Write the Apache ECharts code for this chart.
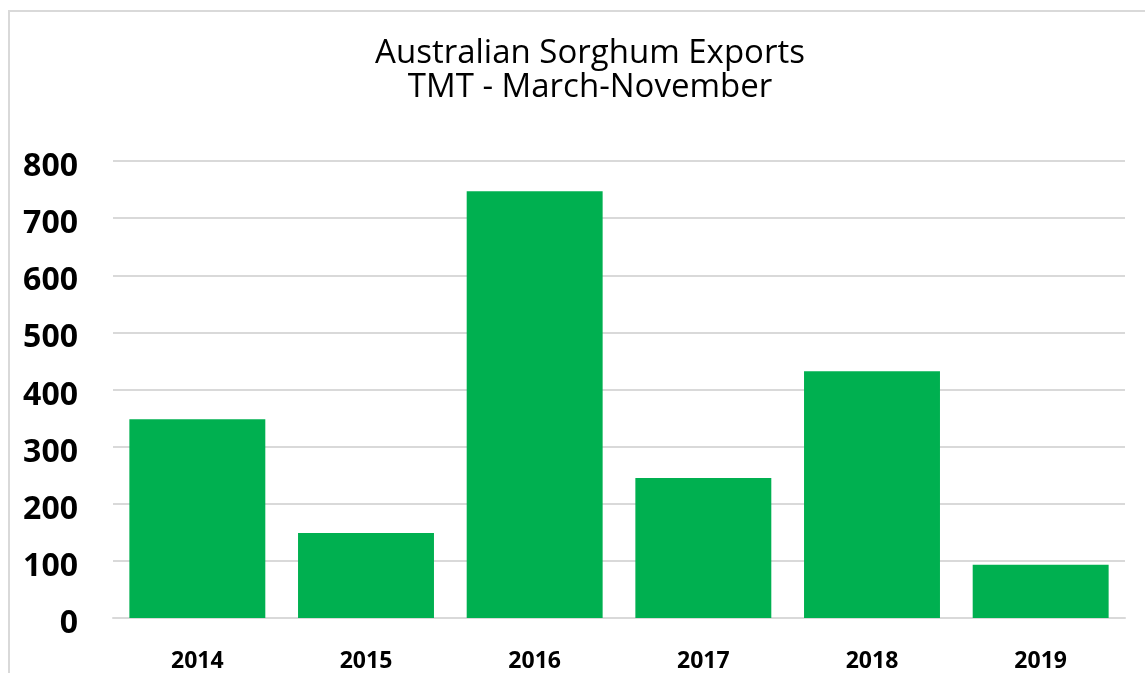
<!DOCTYPE html>
<html>
<head>
<meta charset="utf-8">
<script src="https://cdn.jsdelivr.net/npm/echarts@6/dist/echarts.min.js"></script>
<style>
	html, body { margin:0; padding:0; background:#fff; overflow:hidden; }
	#frame { position:absolute; left:8px; top:10px; width:1160px; height:700px; border:2px solid #d9d9d9; box-sizing:border-box; }
	#chart { position:absolute; left:0; top:0; width:1145px; height:673px; }
</style>
</head>
<body>
<div id="frame"></div>
<div id="chart"></div>
<script>
	// 数据
	var years = ['2014', '2015', '2016', '2017', '2018', '2019'];
	var exports = [348, 149, 747, 245, 432, 93];
	var yTicks = [0, 100, 200, 300, 400, 500, 600, 700, 800];

	var myChart = echarts.init(document.getElementById('chart'));
	var option = {
		color: ['#00B050'],
		animation: false,
		title: {
			text: 'Australian Sorghum Exports\nTMT - March-November',
			left: 585,
			top: 32,
			textAlign: 'center',
			textStyle: {
				fontFamily: 'Open Sans',
				fontSize: 33,
				fontWeight: 'normal',
				color: '#000',
				lineHeight: 34
			}
		},
		grid: {
			left: 113,
			right: 20,
			top: 161,
			bottom: 54
		},
		xAxis: {
			type: 'category',
			data: years,
			axisLine: {
				lineStyle: { color: '#d9d9d9', width: 2 }
			},
			axisTick: { show: false },
			axisLabel: {
				margin: 32,
				fontFamily: 'Open Sans',
				fontWeight: 'bold',
				fontSize: 23,
				color: '#000'
			}
		},
		yAxis: {
			type: 'value',
			min: yTicks[0],
			max: yTicks[yTicks.length - 1],
			interval: 100,
			axisLine: { show: false },
			axisTick: { show: false },
			splitLine: {
				lineStyle: { color: '#d9d9d9', width: 2 }
			},
			axisLabel: {
				margin: 35,
				verticalAlign: 'top',
				lineHeight: 12,
				fontFamily: 'Open Sans',
				fontWeight: 'bold',
				fontSize: 32,
				color: '#000'
			}
		},
		series: [{
			name: 'Exports',
			type: 'bar',
			barCategoryGap: '19.4%',
			data: exports
		}]
	};
	myChart.setOption(option);
</script>
</body>
</html>
